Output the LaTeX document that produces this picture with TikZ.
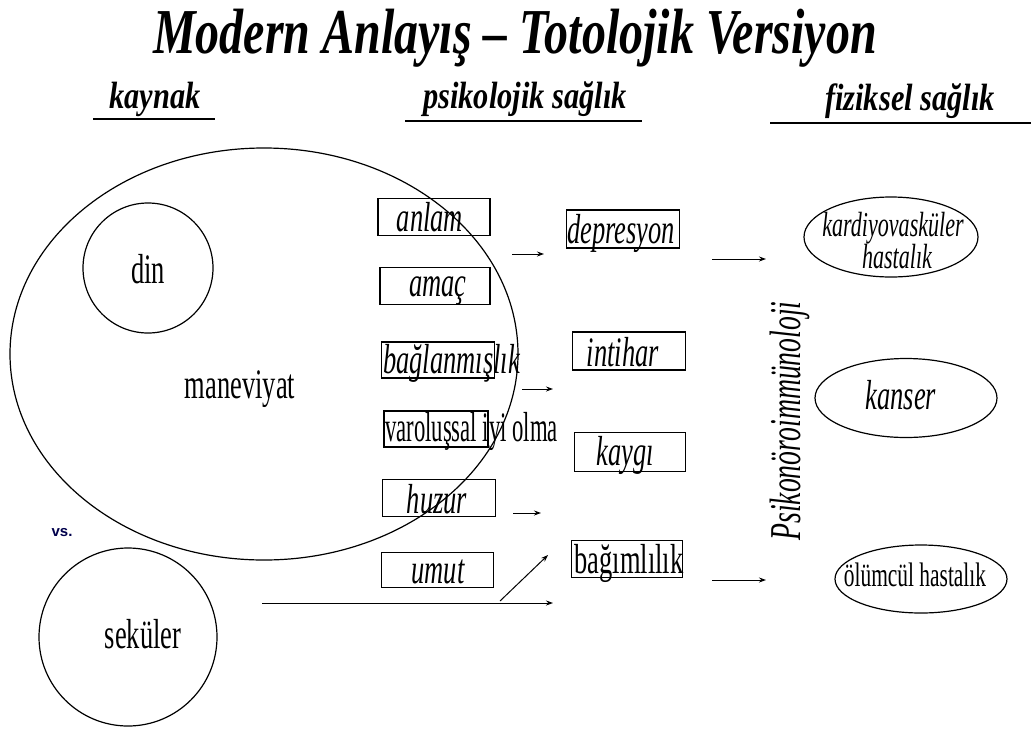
\documentclass[tikz,border=0pt]{standalone}
\usepackage{fontspec}
\setmainfont{Liberation Serif}
\newfontfamily\cond[FakeStretch=0.63]{Liberation Serif}
\newfontfamily\ncond[FakeStretch=0.54]{Liberation Serif}
\newfontfamily\hcond[FakeStretch=0.8]{Liberation Serif}
\newfontfamily\tcond[FakeStretch=0.75]{Liberation Serif}
\newfontfamily\vsfont{Liberation Sans}
\usetikzlibrary{arrows.meta,shapes.geometric}
\tikzset{
  lbox/.style={draw, line width=1.4pt, minimum width=#1, minimum height=36pt, inner sep=0pt},
  lbl/.style={font=\cond\itshape\fontsize{42}{46}\selectfont, inner sep=0pt, anchor=base},
  lblup/.style={font=\cond\fontsize{42}{46}\selectfont, inner sep=0pt, anchor=base},
  hdr/.style={font=\hcond\bfseries\itshape\fontsize{38}{40}\selectfont, inner sep=0pt, anchor=base},
  uline/.style={line width=2.5pt},
  arr/.style={line width=1pt, -{Stealth[length=7pt,width=5pt]}},
  oval/.style={draw, line width=1.2pt, ellipse, inner sep=0pt},
}
\begin{document}
\begin{tikzpicture}[x=1pt,y=-1pt]
\useasboundingbox (0,0) rectangle (1031,729);
% title
\node[font=\tcond\bfseries\itshape\fontsize{64}{70}\selectfont, inner sep=0pt, anchor=base] (title) at (515,53) {Modern Anlayış – Totolojik Versiyon};
% headers
\node[hdr] (h1) at (155,108) {kaynak};
\node[hdr] (h2) at (525,108) {psikolojik sağlık};
\node[hdr] (h3) at (910,110) {fiziksel sağlık};
\coordinate (u1a) at (93,119); \coordinate (u1b) at (215,119);
\coordinate (u2a) at (405,121); \coordinate (u2b) at (642,121);
\coordinate (u3a) at (770,123); \coordinate (u3b) at (1031,123);
\draw[uline] (u1a) -- (u1b);
\draw[uline] (u2a) -- (u2b);
\draw[uline] (u3a) -- (u3b);
% left circles
\node[draw, line width=1.2pt, ellipse, minimum width=508pt, minimum height=412pt, inner sep=0pt] (man) at (264,354) {};
\node[draw, line width=1.2pt, circle, minimum size=130pt, inner sep=0pt] (din) at (148,268) {};
\node[lblup] (dinlbl) at (148,283) {din};
\node[lblup] (manlbl) at (240,398) {maneviyat};
\node[font=\vsfont\bfseries\fontsize{15}{18}\selectfont, text=black!70!blue, inner sep=0pt] (vs) at (62,533) {vs.};
\node[draw, line width=1.2pt, circle, minimum size=178pt, inner sep=0pt] (sek) at (128,637) {};
\node[lblup] (seklbl) at (143,648) {seküler};
% left boxes
\node[lbox=112pt, minimum height=37pt] (b1) at (434,217) {};
\node[lbl] (t1) at (430,231) {anlam};
\node[lbox=110pt, minimum height=37pt] (b2) at (435,286) {};
\node[lbl] (t2) at (438,296) {amaç};
\node[lbox=113pt] (b3) at (438,360) {};
\node[lbl, anchor=base west] (t3) at (383,373) {bağlanmışlık};
\node[lbox=104pt] (b4) at (436,429) {};
\node[lblup, font=\ncond\fontsize{42}{46}\selectfont, anchor=base west] (t4) at (385,441) {varoluşsal iyi olma};
\node[lbox=113pt, minimum height=37pt] (b5) at (439,498) {};
\node[lbl] (t5) at (437,513) {huzur};
\node[lbox=112pt, minimum height=35pt, line width=1pt] (b6) at (437,570) {};
\node[lbl] (t6) at (438,583) {umut};
% right boxes
\node[lbox=113pt, minimum height=38pt, line width=1.2pt] (r1) at (623,229) {};
\node[lbl] (s1) at (621,243) {depresyon};
\node[lbox=113pt, minimum height=38pt, line width=1.2pt] (r2) at (629,351) {};
\node[lbl] (s2) at (623,366) {intihar};
\node[lbox=111pt, minimum height=39pt, line width=1.2pt] (r3) at (630,452) {};
\node[lbl] (s3) at (625,465) {kaygı};
\node[lbox=111pt, minimum height=37pt, line width=1.2pt] (r4) at (627,559) {};
\node[lblup] (s4) at (629,573) {bağımlılık};
% arrows
\coordinate (a1s) at (512,254); \coordinate (a1e) at (544,254);
\coordinate (a2s) at (522,389); \coordinate (a2e) at (553,389);
\coordinate (a3s) at (513,513); \coordinate (a3e) at (541,513);
\coordinate (a4s) at (262,603); \coordinate (a4e) at (553,603);
\coordinate (a5s) at (500,601); \coordinate (a5e) at (548,555);
\coordinate (a6s) at (712,259); \coordinate (a6e) at (766,259);
\coordinate (a7s) at (712,580); \coordinate (a7e) at (766,580);
\draw[arr] (a1s) -- (a1e);
\draw[arr] (a2s) -- (a2e);
\draw[arr] (a3s) -- (a3e);
\draw[arr] (a4s) -- (a4e);
\draw[arr] (a5s) -- (a5e);
\draw[arr] (a6s) -- (a6e);
\draw[arr] (a7s) -- (a7e);
% vertical label
\node[font=\cond\itshape\fontsize{44}{46}\selectfont, rotate=90, inner sep=0pt, anchor=base] (pni) at (800,421) {Psikonöroimmünoloji};
% right ovals
\node[oval, minimum width=174pt, minimum height=80pt] (o1) at (891,237) {};
\node[lbl, font=\cond\itshape\fontsize{35}{38}\selectfont] (o1a) at (893,236) {kardiyovasküler};
\node[lbl, font=\cond\itshape\fontsize{35}{38}\selectfont] (o1b) at (897,268) {hastalık};
\node[oval, minimum width=182pt, minimum height=79pt] (o2) at (906,398) {};
\node[lbl] (o2a) at (901,409) {kanser};
\node[oval, minimum width=172pt, minimum height=68pt] (o3) at (921,579) {};
\node[lblup, font=\cond\fontsize{34}{36}\selectfont] (o3a) at (915,586) {ölümcül hastalık};
\end{tikzpicture}
\end{document}
